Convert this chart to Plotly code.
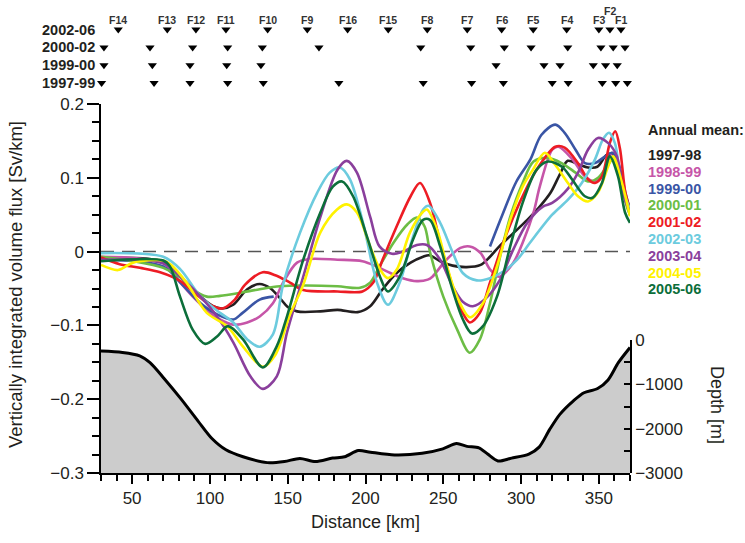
import plotly.graph_objects as go

# ---------------- data ----------------
km_9798 = [30, 70, 83, 94, 102, 108, 115, 124, 132, 139, 145, 150, 156, 171, 182, 195, 203, 211, 220, 229,
           237, 241, 248, 256, 265, 274, 280, 286, 295, 304, 312, 319, 325, 330, 337, 343, 349, 355, 359, 365, 370]
flux_9798 = [-0.009, -0.014, -0.038, -0.061, -0.074, -0.077, -0.072, -0.051, -0.044, -0.05, -0.063, -0.075, -0.081,
             -0.081, -0.079, -0.082, -0.074, -0.051, -0.029, -0.015, -0.007, -0.005, -0.013, -0.019, -0.021, -0.018,
             -0.007, 0.007, 0.025, 0.043, 0.061, 0.08, 0.105, 0.123, 0.118, 0.114, 0.115, 0.131, 0.132, 0.088, 0.057]

km_9899 = [30, 70, 81, 89, 98, 106.5, 115, 124, 132, 140.5, 147, 156, 164, 182, 198, 207, 216, 224, 233, 240,
           243, 252, 261, 267, 274, 280, 286, 295, 301, 308, 312, 320, 324, 333, 341, 347.5, 354, 358.5, 362.5, 367, 370]
flux_9899 = [-0.007, -0.016, -0.042, -0.061, -0.079, -0.092, -0.099, -0.096, -0.088, -0.07, -0.042, -0.015, -0.01,
             -0.011, -0.013, -0.02, -0.029, -0.036, -0.04, -0.038, -0.034, -0.011, 0.005, 0.007, -0.002, -0.024,
             -0.034, -0.015, 0.012, 0.053, 0.088, 0.138, 0.142, 0.125, 0.102, 0.095, 0.111, 0.134, 0.115, 0.07, 0.05]

km_9900 = [30, 70, 81, 94, 104.6, 115, 121, 132, 141, None,
           280, 288, 297, 306, 313, 322, 328, 335, 341, 347.5, 354, 358.5, 362.5, 367, 370]
flux_9900 = [-0.011, -0.02, -0.042, -0.07, -0.085, -0.092, -0.083, -0.065, -0.061, None,
             0.007, 0.05, 0.095, 0.125, 0.158, 0.172, 0.161, 0.138, 0.12, 0.12, 0.129, 0.134, 0.12, 0.08, 0.057]

km_0001 = [30, 51, 70, 81, 89, 98, 106.5, 119, 132, 145, 160, 182, 196.5, 203, 209, 218, 227, 233, 238, 241.5,
           250, 259, 267, 273.5, 280, 286.5, 293, 301, 308, 317, 326, 335, 343, 349.5, 355, 359, 363.5, 368, 370]
flux_0001 = [-0.007, -0.013, -0.022, -0.035, -0.051, -0.061, -0.06, -0.056, -0.051, -0.047, -0.046, -0.047, -0.049,
             -0.042, -0.02, 0.012, 0.037, 0.046, 0.034, -0.001, -0.061, -0.106, -0.137, -0.119, -0.07, -0.007,
             0.047, 0.093, 0.122, 0.127, 0.12, 0.107, 0.095, 0.1, 0.115, 0.125, 0.102, 0.061, 0.05]

km_0102 = [30, 42, 55, 68, 81, 89, 100, 108, 116, 122.5, 134, 142, 151.5, 160, 182, 198, 205, 211, 220, 229,
           235, 241.5, 248, 256, 262.5, 267, 273.5, 280, 288.5, 299, 310, 322, 328, 336.5, 343, 347.5, 352, 357,
           360.5, 363.5, 367, 370]
flux_0102 = [-0.008, -0.017, -0.022, -0.028, -0.04, -0.054, -0.072, -0.077, -0.065, -0.045, -0.028, -0.032, -0.042,
             -0.052, -0.054, -0.054, -0.042, -0.011, 0.034, 0.075, 0.093, 0.066, 0.012, -0.047, -0.083, -0.096,
             -0.083, -0.042, 0.012, 0.066, 0.111, 0.142, 0.141, 0.12, 0.098, 0.093, 0.102, 0.147, 0.163, 0.14,
             0.08, 0.057]

km_0203 = [30, 70, 81, 94, 106.5, 115, 124, 132, 140.5, 147, 158, 169, 177, 183.6, 190, 198.4, 207.4, 214.4, 222,
           230.5, 237, 240.5, 248, 256, 262.5, 271.5, 280, 288.5, 297.5, 305.7, 320, 330, 339, 347.5, 352.6, 356.5,
           360.3, 364.8, 370]
flux_0203 = [-0.002, -0.007, -0.024, -0.061, -0.083, -0.096, -0.119, -0.129, -0.112, -0.045, 0.026, 0.08, 0.107,
             0.114, 0.098, 0.039, -0.042, -0.072, -0.042, 0.02, 0.057, 0.062, 0.039, -0.001, -0.029, -0.039,
             -0.036, -0.027, -0.011, 0.012, 0.05, 0.07, 0.093, 0.125, 0.152, 0.161, 0.147, 0.088, 0.057]

km_0304 = [30, 70, 83, 94, 104.6, 115, 126, 134, 143, 149.5, 160, 171, 182, 188, 194.5, 203, 209, 217, 224, 233,
           239.5, 248, 256, 262.5, 269, 278, 286.5, 295, 304, 314, 320, 330, 336.6, 343, 349.4, 356, 361.6, 365.4, 370]
flux_0304 = [-0.011, -0.016, -0.038, -0.061, -0.088, -0.123, -0.169, -0.186, -0.169, -0.11, -0.034, 0.047, 0.111,
             0.123, 0.107, 0.047, 0.007, -0.003, 0.0, 0.009, 0.009, -0.011, -0.047, -0.068, -0.074, -0.062, -0.038,
             0.003, 0.039, 0.061, 0.066, 0.085, 0.107, 0.138, 0.154, 0.147, 0.129, 0.08, 0.053]

km_0405 = [30, 41, 50.6, 70, 75, 85, 98, 111, 121, 134, 142, 151.5, 160, 171, 181.7, 188, 194.5, 203, 209.3, 214.4,
           220.2, 228.6, 237, 239.5, 246, 252.4, 258.8, 267.1, 275.5, 284.5, 293, 301, 307.6, 315.3, 321.8, 330.1,
           336.6, 343, 349.4, 355.9, 359.1, 364.8, 370]
flux_0405 = [-0.018, -0.025, -0.015, -0.012, -0.018, -0.042, -0.083, -0.101, -0.128, -0.156, -0.14, -0.085, -0.045,
             0.026, 0.057, 0.064, 0.053, 0.007, -0.024, -0.036, -0.024, 0.026, 0.054, 0.057, 0.03, -0.02, -0.061,
             -0.089, -0.07, -0.02, 0.043, 0.088, 0.111, 0.134, 0.118, 0.093, 0.075, 0.068, 0.08, 0.115, 0.129,
             0.093, 0.048]

km_0506 = [30, 70, 74.3, 80.8, 89, 97, 104.6, 111.6, 121.3, 134, 143, 149.5, 160, 171, 179, 185, 192, 201, 209.3,
           214.4, 222, 230.5, 237, 241.4, 248, 256, 262.6, 268.4, 275.5, 284.5, 293, 301, 310, 317.3, 326.3, 332.7,
           341, 346, 352, 357, 362.3, 366.8, 370]
flux_0506 = [-0.013, -0.012, -0.02, -0.061, -0.106, -0.125, -0.115, -0.101, -0.119, -0.157, -0.128, -0.088, -0.011,
             0.053, 0.088, 0.095, 0.075, 0.02, -0.034, -0.054, -0.034, 0.016, 0.043, 0.043, 0.007, -0.052, -0.092,
             -0.111, -0.101, -0.061, 0.007, 0.066, 0.111, 0.122, 0.115, 0.098, 0.075, 0.073, 0.093, 0.129, 0.102,
             0.053, 0.039]

series_names = ["1997-98", "1998-99", "1999-00", "2000-01", "2001-02", "2002-03", "2003-04", "2004-05", "2005-06"]
series_colors = ["#231f20", "#c655a8", "#3a55a5", "#6cbd45", "#ed1c24", "#6ccbde", "#8a3f9c", "#fff200", "#0c6e3a"]
series_km = [km_9798, km_9899, km_9900, km_0001, km_0102, km_0203, km_0304, km_0405, km_0506]
series_flux = [flux_9798, flux_9899, flux_9900, flux_0001, flux_0102, flux_0203, flux_0304, flux_0405, flux_0506]

bathy_km = [30, 43.8, 54.9, 61.5, 70.4, 81.4, 92.5, 101.3, 110.3, 121.3, 136.8, 147.9, 157.8, 167.8, 178.8, 186.6,
            195.4, 203.2, 218.7, 236.4, 249.7, 258.5, 265.2, 272.9, 278.5, 285.1, 293.9, 305, 311.6, 318.2, 324.9,
            333.8, 340.4, 349.2, 355.9, 362.5, 370]
bathy_depth = [-250, -280, -357, -512, -862, -1329, -1834, -2222, -2477, -2633, -2766, -2741, -2671, -2741, -2664,
               -2633, -2493, -2531, -2594, -2556, -2455, -2337, -2400, -2432, -2572, -2728, -2664, -2572, -2416,
               -2028, -1678, -1367, -1189, -1094, -900, -512, -170]

mooring_labels = ["F14", "F13", "F12", "F11", "F10", "F9", "F16", "F15", "F8", "F7", "F6", "F5", "F4", "F3", "F2", "F1"]
moor_2002_06 = [41.1, 72.6, 91.0, 110.3, 137.1, 162.6, 188.5, 214.6, 239.7, 265.4, 287.5, 307.8, 329.3, 350.0, 357.1, 364.2]
moor_2000_02 = [31.9, 61.5, 88.9, 111.4, 133.7, 170.1, 235.5, 267.6, 289.2, 306.4, 330.0, 351.3, 359.2, 366.8]
moor_1999_00 = [31.9, 63.0, 87.2, 110.8, 132.8, 283.9, 314.7, 325.0, 346.4, 354.3, 361.8]
moor_1997_99 = [30.4, 64.1, 87.2, 111.4, 134.3, 182.9, 237.1, 268.2, 288.6, 320.0, 330.3, 352.2, 360.8, 368.3]
period_names = ["1997-99", "1999-00", "2000-02", "2002-06"]
period_moorings = [moor_1997_99, moor_1999_00, moor_2000_02, moor_2002_06]

x_min, x_max = 30, 370

# ---------------- figure ----------------
FONT = "Liberation Sans, Arial, Helvetica, sans-serif"
INK = "#231f20"
fig = go.Figure()

# bathymetry (baseline + filled profile)
fig.add_trace(go.Scatter(x=[x_min, x_max], y=[-3000, -3000], mode="lines", line=dict(width=0, color="rgba(0,0,0,0)"),
                         yaxis="y2", hoverinfo="skip"))
fig.add_trace(go.Scatter(x=bathy_km, y=bathy_depth, mode="lines", yaxis="y2", fill="tonexty",
                         fillcolor="#cccccc", line=dict(color="black", width=3, shape="spline", smoothing=0.8)))

# zero line
fig.add_trace(go.Scatter(x=[x_min, x_max], y=[0, 0], mode="lines",
                         line=dict(color="#555555", width=1.5, dash="13px,8px")))

for name, col, xs, ys in zip(series_names, series_colors, series_km, series_flux):
    fig.add_trace(go.Scatter(x=xs, y=ys, mode="lines", name=name, connectgaps=False,
                             line=dict(color=col, width=2.6, shape="spline", smoothing=0.9)))

# mooring rows
for i, (pname, moors) in enumerate(zip(period_names, period_moorings)):
    fig.add_trace(go.Scatter(x=moors, y=[i] * len(moors), mode="markers", yaxis="y3", cliponaxis=False,
                             marker=dict(symbol="triangle-down", size=8, color="black")))

annotations = []
top_row = len(period_names) - 1
for lab, xk in zip(mooring_labels, moor_2002_06):
    annotations.append(dict(x=xk, y=top_row + (1.03 if lab == "F2" else 0.52), xref="x", yref="y3",
                            text="<b>%s</b>" % lab, showarrow=False,
                            font=dict(size=10.5, color="#333333", family=FONT)))
for i, pname in enumerate(period_names):
    annotations.append(dict(x=-0.007, y=i, xref="paper", yref="y3", xanchor="right", yanchor="middle",
                            text="<b>%s</b>" % pname, showarrow=False,
                            font=dict(size=14.5, color=INK, family=FONT)))

# legend as coloured text
annotations.append(dict(x=1.03, y=(473 - 130) / 468, xref="paper", yref="paper", xanchor="left", yanchor="middle",
                        text="<b>Annual mean:</b>", showarrow=False, font=dict(size=14.5, color=INK, family=FONT)))
for i, (name, col) in enumerate(zip(series_names, series_colors)):
    annotations.append(dict(x=1.03, y=(473 - (155 + 16.8 * i)) / 468, xref="paper", yref="paper",
                            xanchor="left", yanchor="middle", text="<b>%s</b>" % name, showarrow=False,
                            font=dict(size=14.5, color=col, family=FONT)))

# axis titles
annotations.append(dict(x=-0.1626, y=(473 - 284) / 468, xref="paper", yref="paper", textangle=-90,
                        text="Vertically integrated volume flux [Sv/km]", showarrow=False,
                        xanchor="center", yanchor="middle", font=dict(size=18.5, color=INK, family=FONT)))
annotations.append(dict(x=1.1645, y=(473 - 405) / 468, xref="paper", yref="paper", textangle=90,
                        text="Depth [m]", showarrow=False, xanchor="center", yanchor="middle",
                        font=dict(size=18, color=INK, family=FONT)))

fig.update_layout(
    width=745, height=543,
    margin=dict(l=101, r=115, t=5, b=70, autoexpand=False),
    plot_bgcolor="rgba(0,0,0,0)", paper_bgcolor="white",
    showlegend=False,
    font=dict(family=FONT, size=17, color=INK),
    annotations=annotations,
    xaxis=dict(range=[x_min, x_max], domain=[0, 1], anchor="y", showline=True, linecolor="black", linewidth=1.5,
               ticks="outside", ticklen=9, tickwidth=1.5, tickcolor="black", tick0=0, dtick=50,
               minor=dict(tick0=0, dtick=10, ticks="outside", ticklen=6, tickwidth=1.5, tickcolor="black"),
               showgrid=False, zeroline=False, automargin=False,
               title=dict(text="Distance [km]", font=dict(size=18, color=INK), standoff=8)),
    yaxis=dict(range=[-0.3, 0.2], domain=[0, (473 - 104) / 468], anchor="x", showline=True, linecolor="black",
               linewidth=1.5, ticks="outside", ticklen=12, tickwidth=1.5, tickcolor="black", tick0=0, dtick=0.1,
               minor=dict(tick0=0, dtick=0.025, ticks="outside", ticklen=7, tickwidth=1.5, tickcolor="black"),
               showgrid=False, zeroline=False, automargin=False),
    yaxis2=dict(range=[-3000, 0], domain=[0, (473 - 340) / 468], anchor="x", side="right", showline=True,
                linecolor="black", linewidth=1.5, ticks="inside", ticklen=6, tickwidth=1.5, tickcolor="black",
                tick0=0, dtick=1000, automargin=False,
                minor=dict(tick0=0, dtick=500, ticks="inside", ticklen=6, tickwidth=1.5, tickcolor="black"),
                showgrid=False, zeroline=False),
    yaxis3=dict(range=[-0.876, 4.382], domain=[0.8, 1.0], anchor="x", visible=False, showgrid=False,
                zeroline=False, automargin=False),
)

fig.write_html("out.html")
